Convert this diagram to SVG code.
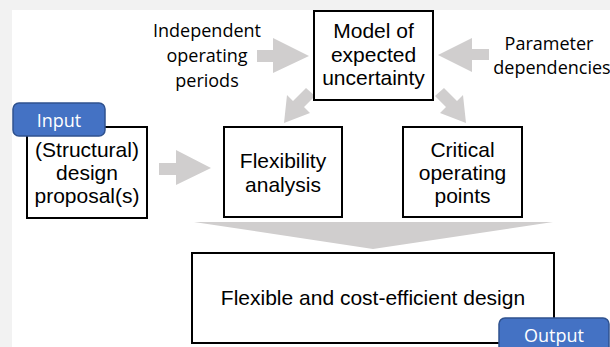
<svg xmlns="http://www.w3.org/2000/svg" width="610" height="347" viewBox="0 0 610 347">
<style>
.box{fill:#fff;stroke:#000;stroke-width:2}
.t{font-family:"Liberation Sans",Arial,sans-serif;font-size:21px;fill:#000;text-anchor:middle}
.l{font-family:"Open Sans","Noto Sans",sans-serif;font-size:18px;fill:#000;text-anchor:middle}
.badge{fill:#4472c4;stroke:#2f528f;stroke-width:1.5}
.bt{font-family:"Open Sans","Noto Sans",sans-serif;font-size:18px;fill:#fff;text-anchor:middle}
.arr{fill:#d0cece}
</style>
<rect x="0" y="0" width="610" height="347" fill="#f2f2f2"/>
<rect x="12" y="10" width="598" height="337" fill="#fff"/>
<g id="connectors">
<polygon class="arr" points="257,50 273,50 273,38 309,56 273,73 273,62 257,62"/>
<polygon class="arr" points="489,49 472,49 472,38 438,55 472,72 472,60 489,60"/>
<polygon class="arr" points="315,96 306,88 293,101 287,95 284,123 310,113 304,107"/>
<polygon class="arr" points="435,96 444,88 457,101 463,95 466,123 440,113 446,107"/>
<polygon class="arr" points="159,163 176,163 176,150 211,168 176,185 176,175 159,175"/>
<polygon class="arr" points="194,222 553,222 373,249"/>
</g>
<g id="label-independent">
<text class="l" x="207" y="37">Independent</text>
<text class="l" x="207" y="62">operating</text>
<text class="l" x="207" y="87">periods</text>
</g>
<g id="label-parameter">
<text class="l" x="549" y="50">Parameter</text>
<text class="l" x="552" y="74">dependencies</text>
</g>
<g id="model">
<rect class="box" x="314" y="11" width="119" height="89"/>
<text class="t" x="373.5" y="38">Model of</text>
<text class="t" x="373.5" y="62">expected</text>
<text class="t" x="373.5" y="85">uncertainty</text>
</g>
<g id="structural">
<rect class="box" x="27" y="127" width="120" height="91"/>
<text class="t" x="87" y="157">(Structural)</text>
<text class="t" x="87" y="180">design</text>
<text class="t" x="87" y="203">proposal(s)</text>
</g>
<g id="flexibility">
<rect class="box" x="224" y="127" width="118" height="90"/>
<text class="t" x="283" y="168">Flexibility</text>
<text class="t" x="283" y="192">analysis</text>
</g>
<g id="critical">
<rect class="box" x="403" y="127" width="119" height="90"/>
<text class="t" x="462.5" y="157">Critical</text>
<text class="t" x="462.5" y="180">operating</text>
<text class="t" x="462.5" y="203">points</text>
</g>
<g id="result">
<rect class="box" x="192" y="253" width="362" height="90"/>
<text class="t" x="373" y="305">Flexible and cost-efficient design</text>
</g>
<g id="input">
<rect class="badge" x="13" y="103" width="92" height="33" rx="6"/>
<text class="bt" x="59" y="127">Input</text>
</g>
<g id="output">
<rect class="badge" x="499" y="318" width="110" height="36" rx="6"/>
<text class="bt" x="554" y="342">Output</text>
</g>
</svg>
